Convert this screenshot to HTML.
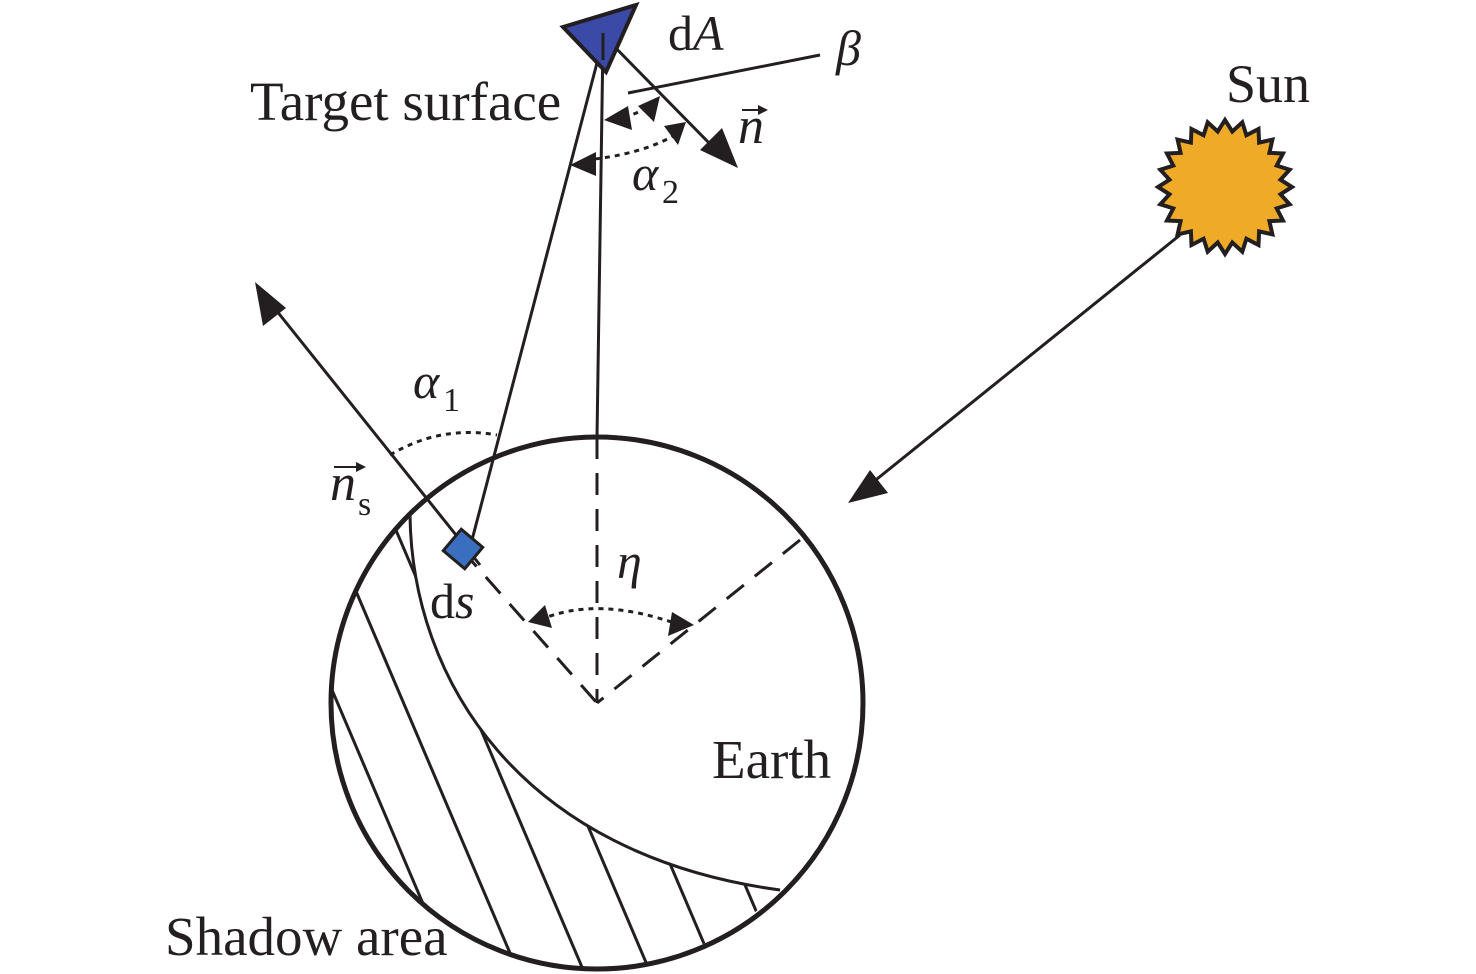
<!DOCTYPE html>
<html><head><meta charset="utf-8"><style>
html,body{margin:0;padding:0;background:#fff}
svg{display:block}
text{font-family:"Liberation Serif",serif;fill:#231f20}
</style></head><body>
<svg width="1476" height="974" viewBox="0 0 1476 974" xmlns="http://www.w3.org/2000/svg">
<defs>
<clipPath id="sh"><path d="M410,515 C412,680 520,855 780,890 A266,266 0 0 1 597,969 A266,266 0 0 1 331,703 A266,266 0 0 1 410,515 Z"/></clipPath>
</defs>
<g stroke="#231f20" fill="none">
<g clip-path="url(#sh)" stroke-width="3">
<line x1="100" y1="300" x2="398" y2="1000"/>
<line x1="166" y1="300" x2="464" y2="1000"/>
<line x1="232" y1="300" x2="530" y2="1000"/>
<line x1="298" y1="300" x2="596" y2="1000"/>
<line x1="364" y1="300" x2="662" y2="1000"/>
<line x1="430" y1="300" x2="728" y2="1000"/>
<line x1="496" y1="300" x2="794" y2="1000"/>
<line x1="34" y1="300" x2="332" y2="1000"/>
</g>
<path d="M410,515 C412,680 520,855 780,890" stroke-width="3"/>
<circle cx="597" cy="703" r="266" stroke-width="5"/>
<g stroke-width="3" stroke-dasharray="22,14">
<line x1="597" y1="437" x2="597" y2="703"/>
<line x1="462" y1="550" x2="597" y2="703"/>
<line x1="800" y1="540" x2="597" y2="703"/>
</g>
<g stroke-width="3">
<line x1="603" y1="40" x2="597" y2="437"/>
<line x1="603" y1="40" x2="472" y2="540"/>
<line x1="603" y1="35" x2="712" y2="146"/>
<line x1="628" y1="93" x2="820" y2="55"/>
<line x1="480" y1="565" x2="272" y2="305"/>
<line x1="1180" y1="235" x2="872" y2="483"/>
<line x1="742" y1="110" x2="762" y2="110" stroke-width="2"/>
<line x1="334" y1="467" x2="360" y2="467" stroke-width="2"/>
</g>
<g stroke-width="3" stroke-dasharray="5,5">
<path d="M390,455 Q440,425 497,435"/>
<path d="M540,620 Q597,595 680,625"/>
<path d="M585,160 Q640,155 675,135"/>
<path d="M615,122 L655,105"/>
</g>
</g>
<g fill="#231f20">
<polygon points="738,168 700,150 722,128"/>
<polygon points="255,282 263,326 286,308"/>
<polygon points="848,503 870,470 888,493"/>
<polygon points="528,622 545,605 552,628"/>
<polygon points="694,625 672,612 668,636"/>
<polygon points="570,165 596,152 596,176"/>
<polygon points="686,122 664,126 678,145"/>
<polygon points="604,120 628,106 632,130"/>
<polygon points="660,96 638,106 654,122"/>
<polygon points="768,110 758,105 758,115"/>
<polygon points="366,467 356,462 356,472"/>
</g>
<polygon points="563,27 636,5 606,72" fill="#3a4aa6" stroke="#231f20" stroke-width="4"/>
<line x1="603" y1="33" x2="603" y2="60" stroke="#231f20" stroke-width="3"/>
<rect x="-14" y="-14" width="28" height="28" fill="#3a6fc0" stroke="#231f20" stroke-width="3" transform="translate(463,549) rotate(40)"/>
<polygon id="sun" fill="#efab27" stroke="#231f20" stroke-width="4" points=""/>
<script>
(function(){var p=[],cx=1225,cy=187,n=24;for(var i=0;i<2*n;i++){var r=i%2?56:67,a=Math.PI*i/n;p.push((cx+r*Math.cos(a)).toFixed(1)+","+(cy+r*Math.sin(a)).toFixed(1));}document.getElementById("sun").setAttribute("points",p.join(" "));})();
</script>
<text x="250" y="120" font-size="55">Target surface</text>
<text x="668" y="50" font-size="50">d<tspan font-style="italic">A</tspan></text>
<text x="836" y="65" font-size="50" font-style="italic">β</text>
<text x="738" y="143" font-size="52" font-style="italic">n</text>
<text x="1226" y="102" font-size="54">Sun</text>
<text x="632" y="190" font-size="50" font-style="italic">α</text>
<text x="662" y="203" font-size="34">2</text>
<text x="413" y="398" font-size="50" font-style="italic">α</text>
<text x="443" y="411" font-size="34">1</text>
<text x="330" y="500" font-size="52" font-style="italic">n</text>
<text x="358" y="515" font-size="34">s</text>
<text x="617" y="578" font-size="50" font-style="italic">η</text>
<text x="430" y="618" font-size="50">d<tspan font-style="italic">s</tspan></text>
<text x="712" y="778" font-size="55">Earth</text>
<text x="165" y="955" font-size="55">Shadow area</text>
</svg>
</body></html>
